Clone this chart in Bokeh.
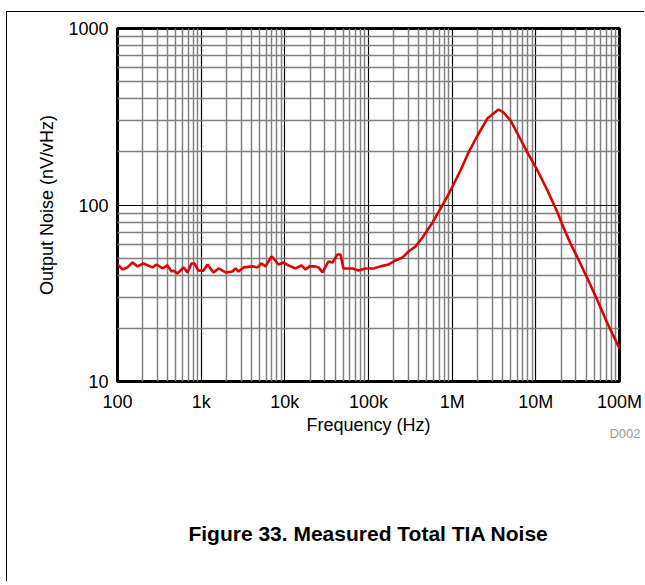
from bokeh.plotting import figure
from bokeh.models import Range1d, FixedTicker, Title, LogAxis
from bokeh.embed import file_html
from bokeh.resources import INLINE

# Data
freq_hz = [100, 114.8, 131.6, 151.1, 173.4, 204.5, 262, 292.6, 345, 396, 442, 467, 521, 615, 687,
           766, 832, 929, 1066, 1190, 1404, 1611, 1954, 2368, 2572, 2793, 3206, 4107, 4713, 5260,
           5872, 6927, 7319, 8401, 9638, 11060, 13410, 15820, 17660, 19710, 23250, 25250, 28190,
           33250, 37120, 42600, 46270, 50240, 64400, 75950, 92050, 114700, 139100, 173400, 210200,
           254900, 300600, 364500, 441900, 521200, 582100, 725200, 954800, 1.257e6, 1.567e6,
           2.007e6, 2.643e6, 3.118e6, 3.577e6, 4.106e6, 4.977e6, 6.203e6, 7.948e6, 1.046e7,
           1.378e7, 1.815e7, 2.140e7, 2.595e7, 3.146e7, 4.142e7, 5.456e7, 7.184e7, 1.0e8]
noise_nv = [46.0, 43.1, 44.3, 47.2, 44.9, 46.6, 44.3, 46.0, 43.7, 45.5, 42.0, 42.5, 40.9, 44.3, 41.5,
            46.6, 46.6, 42.5, 42.5, 46.0, 41.5, 43.7, 41.5, 42.0, 43.7, 42.0, 44.3, 44.9, 44.3, 46.6,
            44.9, 51.1, 49.8, 46.0, 47.2, 45.5, 43.7, 45.5, 43.1, 44.9, 44.9, 44.3, 41.5,
            47.9, 47.2, 52.4, 52.4, 43.7, 43.7, 42.5, 43.7, 43.7, 44.9, 46.0, 48.5,
            50.4, 54.5, 58.2, 65.5, 73.6, 79.6, 95.5, 120.8, 156.9, 198.3,
            247.6, 309.2, 330.0, 347.6, 334.3, 301.3, 247.6, 198.3, 156.9,
            120.8, 90.7, 74.6, 60.5, 50.4, 38.35, 28.77, 21.31, 15.38]

x_ticks = [1e2, 1e3, 1e4, 1e5, 1e6, 1e7, 1e8]
x_tick_labels = ["100", "1k", "10k", "100k", "1M", "10M", "100M"]
y_ticks = [10, 100, 1000]
y_tick_labels = ["10", "100", "1000"]

x_minor = [k * d for d in x_ticks[:-1] for k in range(2, 10)]
y_minor = [k * d for d in y_ticks[:-1] for k in range(2, 10)]

FONT = "Liberation Sans"

p = figure(width=638, height=570, x_axis_type="log", y_axis_type="log",
           x_range=Range1d(1e2, 1e8), y_range=Range1d(10, 1000),
           output_backend="svg", toolbar_location=None,
           min_border_left=110, min_border_right=26, min_border_top=16, min_border_bottom=201)
p.styles = {"border-left": "1px solid #000", "border-top": "1px solid #000",
            "margin-left": "6px", "margin-top": "11px"}

p.outline_line_color = "black"
p.outline_line_width = 3
p.background_fill_color = "white"
p.border_fill_color = "white"

p.xaxis.ticker = FixedTicker(ticks=x_ticks, minor_ticks=x_minor)
p.yaxis.ticker = FixedTicker(ticks=y_ticks, minor_ticks=y_minor)
p.xaxis.major_label_overrides = {t: l for t, l in zip(x_ticks, x_tick_labels)}
p.yaxis.major_label_overrides = {t: l for t, l in zip(y_ticks, y_tick_labels)}

for ax in (p.xaxis, p.yaxis):
    ax.axis_line_color = None
    ax.major_tick_line_color = None
    ax.minor_tick_line_color = None
    ax.major_label_text_font = FONT
    ax.major_label_text_font_size = "18px"
    ax.major_label_text_color = "black"
    ax.axis_label_text_font = FONT
    ax.axis_label_text_font_size = "18px"
    ax.axis_label_text_font_style = "normal"
    ax.axis_label_text_color = "black"

p.xaxis.axis_label = "Frequency (Hz)"
p.yaxis.axis_label = "Output Noise (nV/vHz)"
p.xaxis.major_label_standoff = 4
p.xaxis.axis_label_standoff = 0
p.yaxis.major_label_standoff = 3
p.yaxis.axis_label_standoff = 8

for g in (p.xgrid, p.ygrid):
    g.grid_line_color = "black"
    g.grid_line_width = 1.2
    g.minor_grid_line_color = "#808080"
    g.minor_grid_line_width = 1.5

p.line(freq_hz, noise_nv, line_color="#e00000", line_width=2.6)

# "D002" tag, right-aligned past the frame
p.add_layout(Title(text="D002", align="right", offset=-21, standoff=-24, vertical_align="top",
                   text_font=FONT, text_font_size="13px", text_font_style="normal",
                   text_color="#999999"), "below")

# Figure caption carried by an empty axis below
cap = LogAxis(ticker=FixedTicker(ticks=[]), axis_label="Figure 33. Measured Total TIA Noise",
              axis_line_color=None, major_tick_line_color=None, minor_tick_line_color=None,
              major_label_standoff=0, axis_label_standoff=84,
              axis_label_text_font=FONT, axis_label_text_font_size="21px",
              axis_label_text_font_style="bold", axis_label_text_color="black")
p.add_layout(cap, "below")

open("out.html", "w").write(file_html(p, INLINE))
